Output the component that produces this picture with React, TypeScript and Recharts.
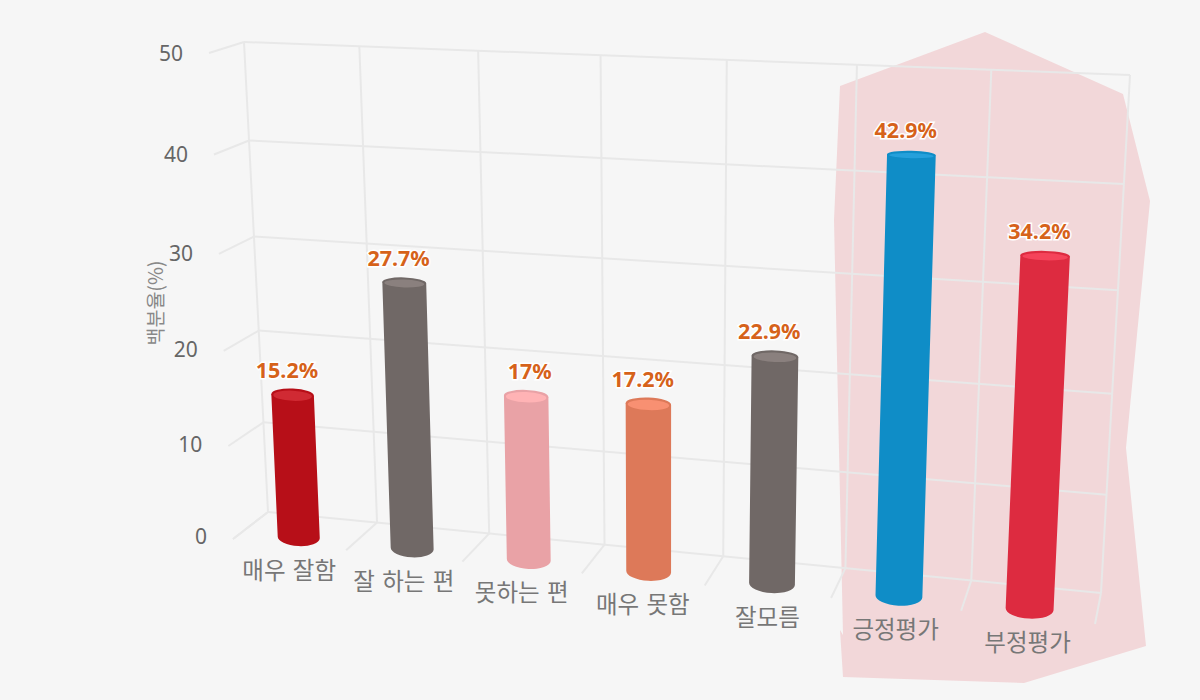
import { Bar, BarChart, LabelList, XAxis, YAxis } from 'recharts';

const CATEGORIES = ['매우 잘함', '잘 하는 편', '못하는 편', '매우 못함', '잘모름', '긍정평가', '부정평가'];
const VALUES = [15.2, 27.7, 17, 17.2, 22.9, 42.9, 34.2];
const VALUE_TICKS = [0, 10, 20, 30, 40, 50];

const BODY_COLORS = ['#b70f18', '#706866', '#e9a2a6', '#dd7959', '#706866', '#0f8dc7', '#dd2b40'];
const CAP_COLORS = ['#d02a33', '#8a807e', '#ffb3b5', '#f89072', '#8a807e', '#25a0db', '#f5435a'];

const data = CATEGORIES.map((name, i) => ({ name, value: VALUES[i] }));

const WIDTH = 1200;
const HEIGHT = 700;
// flat plot rectangle that recharts lays out, warped afterwards into the 3d view
const PLOT = { left: 100, top: 50, width: 1000, height: 500 };
const BAR_DEPTH = 0.3;

type Pt = [number, number];

// order: top left, top right, bottom right, bottom left
function homography([p0, p1, p2, p3]: Pt[]) {
  const dx1 = p1[0] - p2[0];
  const dx2 = p3[0] - p2[0];
  const sx = p0[0] - p1[0] + p2[0] - p3[0];
  const dy1 = p1[1] - p2[1];
  const dy2 = p3[1] - p2[1];
  const sy = p0[1] - p1[1] + p2[1] - p3[1];
  const det = dx1 * dy2 - dx2 * dy1;
  const g = (sx * dy2 - dx2 * sy) / det;
  const h = (dx1 * sy - sx * dy1) / det;
  return (u: number, v: number): Pt => {
    const d = g * u + h * v + 1;
    return [
      ((p1[0] - p0[0] + g * p1[0]) * u + (p3[0] - p0[0] + h * p3[0]) * v + p0[0]) / d,
      ((p1[1] - p0[1] + g * p1[1]) * u + (p3[1] - p0[1] + h * p3[1]) * v + p0[1]) / d,
    ];
  };
}

const frontPlane = homography([[209, 53], [1122, 90], [1095, 624], [233, 539]]);
const backPlane = homography([[244, 42], [1130, 75], [1101, 593], [268, 512]]);

// u 0..1 left to right, v 0..1 top to bottom, w 0 front .. 1 back
function project(u: number, v: number, w: number): Pt {
  const a = frontPlane(u, v);
  const b = backPlane(u, v);
  return [a[0] + (b[0] - a[0]) * w, a[1] + (b[1] - a[1]) * w];
}

const flatU = (x: number) => (x - PLOT.left) / PLOT.width;
const flatV = (y: number) => (y - PLOT.top) / PLOT.height;

const PINK_AREA = '840,86 985,32 1123,94 1150,201 1126,448 1146,646 1024,683 843,677 840,630 843,635 834,220';

function capRy(y: number) {
  return 3.2 + (y - 100) * 0.0105;
}

function CylinderShape(props: any) {
  const { x, y, width, height, index } = props;
  const u = flatU(x + width / 2);
  const step = 1 / CATEGORIES.length;
  const ends = [flatV(y), flatV(y + height)].map((v) => {
    const c = project(u, v, BAR_DEPTH);
    const l = project(u - step / 2, v, BAR_DEPTH);
    const r = project(u + step / 2, v, BAR_DEPTH);
    const spacing = Math.hypot(r[0] - l[0], r[1] - l[1]);
    const rx = (42 + 0.28 * (spacing - 112)) / 2;
    // the cylinder caps lean less than the grid lines do
    const angle = Math.atan2(r[1] - l[1], r[0] - l[0]) * 0.5;
    return { c, rx, angle, deg: (angle * 180) / Math.PI, ry: capRy(c[1]) };
  });
  const [top, base] = ends;
  const edge = (e: typeof top, sign: number): Pt => [
    e.c[0] + sign * e.rx * Math.cos(e.angle),
    e.c[1] + sign * e.rx * Math.sin(e.angle),
  ];
  const tl = edge(top, -1);
  const tr = edge(top, 1);
  const bl = edge(base, -1);
  const br = edge(base, 1);
  const body = BODY_COLORS[index];
  return (
    <g>
      <path
        d={`M${tl[0]},${tl[1]} L${tr[0]},${tr[1]} L${br[0]},${br[1] + 1} A${base.rx},${base.ry + 1} ${base.deg} 0 1 ${bl[0]},${bl[1] + 1} Z`}
        fill={body}
      />
      <ellipse
        cx={top.c[0]}
        cy={top.c[1]}
        rx={top.rx}
        ry={top.ry}
        fill={body}
        transform={`rotate(${top.deg} ${top.c[0]} ${top.c[1]})`}
      />
      <ellipse
        cx={top.c[0]}
        cy={top.c[1] + 1}
        rx={top.rx - 2}
        ry={Math.max(top.ry - 1.2, 2)}
        fill={CAP_COLORS[index]}
        transform={`rotate(${top.deg} ${top.c[0]} ${top.c[1] + 1})`}
      />
    </g>
  );
}

function ValueLabel(props: any) {
  const { x, y, width, value } = props;
  const c = project(flatU(x + width / 2), flatV(y), BAR_DEPTH);
  return (
    <text
      x={c[0] + 25.5}
      y={c[1] - 25.5}
      textAnchor="end"
      dominantBaseline="central"
      fontFamily="'Noto Sans', sans-serif"
      fontSize={21.5}
      fontWeight={700}
      fill="#d6621a"
      stroke="#ffffff"
      strokeWidth={3}
      paintOrder="stroke"
    >
      {value}%
    </text>
  );
}

function CategoryTick(props: any) {
  const { x, payload } = props;
  const c = project(flatU(x), 1, 0);
  return (
    <text
      x={c[0]}
      y={c[1] + 24}
      textAnchor="middle"
      dominantBaseline="central"
      fontFamily="'Noto Sans CJK KR', sans-serif"
      fontSize={23.5}
      wordSpacing={2}
      fill="#777777"
    >
      {payload.value}
    </text>
  );
}

function ValueTick(props: any) {
  const { y, payload } = props;
  const v = flatV(y);
  const c = project(0, v, 0);
  return (
    <text
      x={c[0] - 26}
      y={c[1] - v * 3}
      textAnchor="end"
      dominantBaseline="central"
      fontFamily="'Noto Sans', sans-serif"
      fontSize={21}
      fill="#666666"
    >
      {payload.value}
    </text>
  );
}

function GridLine({ a, b }: { a: Pt; b: Pt }) {
  return <line x1={a[0]} y1={a[1]} x2={b[0]} y2={b[1]} stroke="#e8e8e8" strokeWidth={2} />;
}

function PerspectiveGrid() {
  const max = VALUE_TICKS[VALUE_TICKS.length - 1];
  return (
    <g>
      {VALUE_TICKS.map((t) => {
        const v = 1 - t / max;
        return (
          <g key={t}>
            <GridLine a={project(0, v, 1)} b={project(1, v, 1)} />
            <GridLine a={project(0, v, 0)} b={project(0, v, 1)} />
          </g>
        );
      })}
      {CATEGORIES.concat('').map((_, i) => {
        const u = i / CATEGORIES.length;
        return (
          <g key={i}>
            <GridLine a={project(u, 0, 1)} b={project(u, 1, 1)} />
            <GridLine a={project(u, 1, 0)} b={project(u, 1, 1)} />
          </g>
        );
      })}
    </g>
  );
}

export default function App() {
  return (
    <div style={{ position: 'fixed', left: 0, top: 0, width: WIDTH, height: HEIGHT, background: '#f6f6f6' }}>
      <BarChart
        width={WIDTH}
        height={HEIGHT}
        data={data}
        margin={{
          left: 0,
          top: PLOT.top,
          right: WIDTH - PLOT.left - PLOT.width,
          bottom: 0,
        }}
      >
        <polygon points={PINK_AREA} fill="#f2d7d9" />
        <PerspectiveGrid />
        <XAxis
          dataKey="name"
          height={HEIGHT - PLOT.top - PLOT.height}
          axisLine={false}
          tickLine={false}
          interval={0}
          tick={<CategoryTick />}
        />
        <YAxis
          orientation="left"
          width={PLOT.left}
          domain={[0, 50]}
          ticks={VALUE_TICKS}
          axisLine={false}
          tickLine={false}
          tick={<ValueTick />}
        />
        <Bar dataKey="value" shape={<CylinderShape />} barSize={50} isAnimationActive={false}>
          <LabelList dataKey="value" content={<ValueLabel />} />
        </Bar>
        <text
          x={154}
          y={303}
          textAnchor="middle"
          dominantBaseline="central"
          transform="rotate(-90 154 303)"
          fontFamily="'Noto Sans CJK KR', sans-serif"
          fontSize={19.5}
          fill="#888888"
        >
          백분율(%)
        </text>
      </BarChart>
    </div>
  );
}
